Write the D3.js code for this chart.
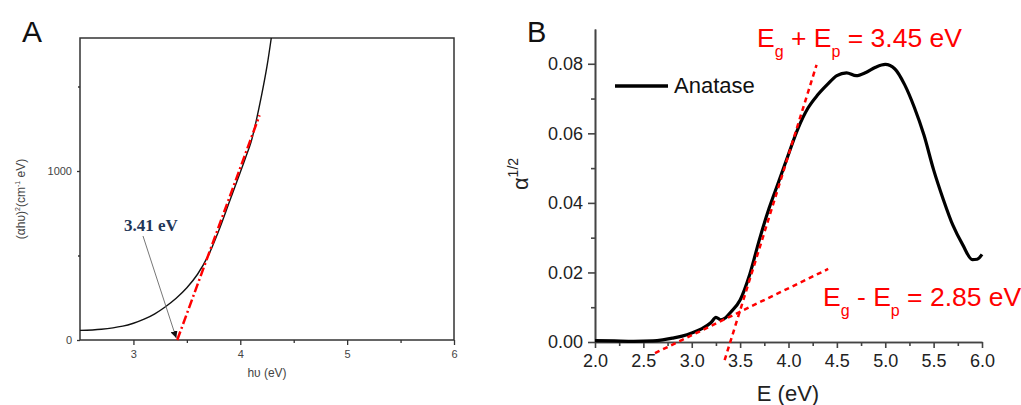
<!DOCTYPE html>
<html>
<head>
<meta charset="utf-8">
<script src="https://cdn.jsdelivr.net/npm/d3@7"></script>
<style>
  body { margin: 0; background: #fff; }
  text { font-family: Arial, "Liberation Sans", sans-serif; }
</style>
</head>
<body>
<svg id="chart" width="1021" height="405"></svg>
<script>
// panel A data: (alpha h nu)^2 vs h nu
var A_E = [2.5, 2.7, 2.9, 3.0, 3.1, 3.2, 3.3, 3.4, 3.5, 3.6, 3.7, 3.8, 3.9, 4.0, 4.05, 4.1, 4.15, 4.2, 4.25, 4.29];
var A_Y = [57, 64, 82, 99, 123, 155, 197, 247, 309, 389, 499, 649, 821, 993, 1080, 1170, 1300, 1450, 1620, 1787];
var A_FIT_E = [3.41, 4.18];
var A_FIT_Y = [0, 1330];
var A_XTICKS = [3, 4, 5, 6];
var A_XMINOR = [3.5, 4.5, 5.5];
var A_YTICKS = [0, 1000];
var A_YMINOR = [500, 1500];

// panel B data: alpha^(1/2) vs E
var B_E = [2.0, 2.2, 2.4, 2.6, 2.7, 2.8, 2.9, 3.0, 3.1, 3.2, 3.25, 3.3, 3.35, 3.4, 3.5, 3.6, 3.7, 3.8, 3.9, 4.0, 4.1, 4.2, 4.3, 4.4, 4.5, 4.6, 4.7, 4.8, 4.9, 5.0, 5.1, 5.2, 5.3, 5.4, 5.5, 5.6, 5.7, 5.8, 5.9, 5.95, 6.0];
var B_Y = [0.0004, 0.0003, 0.0002, 0.0003, 0.0006, 0.0011, 0.0017, 0.0026, 0.0038, 0.0056, 0.0071, 0.0064, 0.0070, 0.0085, 0.0121, 0.0195, 0.0295, 0.0385, 0.0462, 0.0540, 0.0615, 0.0672, 0.0710, 0.0740, 0.0766, 0.0774, 0.0766, 0.0775, 0.0790, 0.0798, 0.0785, 0.0740, 0.0675, 0.0595, 0.0495, 0.0410, 0.0335, 0.0280, 0.0237, 0.0238, 0.0252];
var B_FIT1_E = [3.34, 4.29];
var B_FIT1_Y = [-0.0052, 0.0797];
var B_FIT2_E = [2.62, 4.41];
var B_FIT2_Y = [-0.0032, 0.021];
var B_XTICKS = [2.0, 2.5, 3.0, 3.5, 4.0, 4.5, 5.0, 5.5, 6.0];
var B_XMINOR = [2.25, 2.75, 3.25, 3.75, 4.25, 4.75, 5.25, 5.75];
var B_YTICKS = [0, 0.02, 0.04, 0.06, 0.08];
var B_YMINOR = [0.01, 0.03, 0.05, 0.07];

var svg = d3.select("#chart");

function zip(xs, ys) {
    return xs.map((x, i) => ({x: x, y: ys[i]}));
}

//---------------- panel A ----------------
var xA = d3.scaleLinear().domain([2.5, 6]).range([80, 454]);
var yA = d3.scaleLinear().domain([0, 1787]).range([340, 38]);

var gA = svg.append("g");

gA.append("text").text("A")
    .attr("x", 22).attr("y", 42)
    .attr("font-size", 30).attr("fill", "#111");

gA.append("rect")
    .attr("x", xA(2.5)).attr("y", yA(1787))
    .attr("width", xA(6) - xA(2.5)).attr("height", yA(0) - yA(1787))
    .attr("fill", "none").attr("stroke", "#333").attr("stroke-width", 1.5);

function styleAxisA(g) {
    g.select(".domain").remove();
    g.selectAll("line").attr("stroke", "#333").attr("stroke-width", 1.3);
    g.selectAll("text").attr("font-size", 11).attr("fill", "#444");
}

gA.append("g").attr("transform", `translate(0, ${yA(0)})`)
    .call(d3.axisBottom(xA).tickValues(A_XTICKS).tickSize(5).tickPadding(5).tickFormat(d3.format("d")))
    .call(styleAxisA);
gA.append("g").attr("transform", `translate(0, ${yA(0)})`)
    .call(d3.axisBottom(xA).tickValues(A_XMINOR).tickSize(3).tickFormat(""))
    .call(styleAxisA);
gA.append("g").attr("transform", `translate(${xA(2.5)}, 0)`)
    .call(d3.axisLeft(yA).tickValues(A_YTICKS).tickSize(3).tickPadding(5).tickFormat(d3.format("d")))
    .call(styleAxisA);
gA.append("g").attr("transform", `translate(${xA(2.5)}, 0)`)
    .call(d3.axisLeft(yA).tickValues(A_YMINOR).tickSize(2).tickFormat(""))
    .call(styleAxisA);

gA.append("text")
    .attr("x", 267).attr("y", 377)
    .attr("text-anchor", "middle")
    .attr("font-size", 12).attr("fill", "#444")
    .text("h\u03c5 (eV)");

var ylabA = gA.append("text")
    .attr("transform", "translate(25, 199) rotate(-90)")
    .attr("text-anchor", "middle")
    .attr("font-size", 12).attr("fill", "#444");
ylabA.append("tspan").text("(\u03b1h\u03c5)");
ylabA.append("tspan").text("2").attr("font-size", 7).attr("dy", -5);
ylabA.append("tspan").text("(cm").attr("dy", 5);
ylabA.append("tspan").text("-1").attr("font-size", 7).attr("dy", -5);
ylabA.append("tspan").text(" eV)").attr("dy", 5);

var lineA = d3.line().x(d => xA(d.x)).y(d => yA(d.y)).curve(d3.curveCatmullRom);
gA.append("path")
    .datum(zip(A_E, A_Y))
    .attr("d", lineA)
    .attr("fill", "none").attr("stroke", "#111").attr("stroke-width", 1.4);

gA.append("path")
    .datum(zip(A_FIT_E, A_FIT_Y))
    .attr("d", d3.line().x(d => xA(d.x)).y(d => yA(d.y)))
    .attr("fill", "none").attr("stroke", "#ff0000").attr("stroke-width", 2.5)
    .attr("stroke-dasharray", "9,3,2,3");

// arrow to the intercept
svg.append("defs").append("marker")
    .attr("id", "arr").attr("viewBox", "0 0 10 10")
    .attr("refX", 10).attr("refY", 5)
    .attr("markerWidth", 7).attr("markerHeight", 7)
    .attr("markerUnits", "userSpaceOnUse")
    .attr("orient", "auto")
    .append("path").attr("d", "M0,0 L10,5 L0,10 z").attr("fill", "#111");

gA.append("line")
    .attr("x1", 143).attr("y1", 236)
    .attr("x2", xA(3.41) - 1).attr("y2", yA(0) - 2)
    .attr("stroke", "#777").attr("stroke-width", 1)
    .attr("marker-end", "url(#arr)");

gA.append("text")
    .attr("x", 124).attr("y", 231)
    .style("font-family", "'Liberation Serif', 'Times New Roman', serif")
    .attr("font-weight", "bold").attr("font-size", 17)
    .attr("fill", "#1f3658")
    .text("3.41 eV");

//---------------- panel B ----------------
var xB = d3.scaleLinear().domain([2, 6]).range([595, 982]);
var yB = d3.scaleLinear().domain([0, 0.09]).range([342, 29]);

var gB = svg.append("g");

gB.append("text").text("B")
    .attr("x", 527).attr("y", 42)
    .attr("font-size", 29).attr("fill", "#111");

function styleAxisB(g) {
    g.select(".domain").attr("stroke", "#444").attr("stroke-width", 1.6);
    g.selectAll(".tick line").attr("stroke", "#444").attr("stroke-width", 1.6);
    g.selectAll("text").attr("font-size", 18).attr("fill", "#222");
}

gB.append("g").attr("transform", `translate(0, ${yB(0)})`)
    .call(d3.axisBottom(xB).tickValues(B_XTICKS).tickSize(6).tickSizeOuter(0).tickPadding(6).tickFormat(d3.format(".1f")))
    .call(styleAxisB);
gB.append("g").attr("transform", `translate(0, ${yB(0)})`)
    .call(d3.axisBottom(xB).tickValues(B_XMINOR).tickSize(4).tickSizeOuter(0).tickFormat(""))
    .call(styleAxisB);
gB.append("g").attr("transform", `translate(${xB(2)}, 0)`)
    .call(d3.axisLeft(yB).tickValues(B_YTICKS).tickSize(7).tickSizeOuter(0).tickPadding(5).tickFormat(d3.format(".2f")))
    .call(styleAxisB);
gB.append("g").attr("transform", `translate(${xB(2)}, 0)`)
    .call(d3.axisLeft(yB).tickValues(B_YMINOR).tickSize(4).tickSizeOuter(0).tickFormat(""))
    .call(styleAxisB);

gB.append("text")
    .attr("x", 788).attr("y", 401)
    .attr("text-anchor", "middle")
    .attr("font-size", 22).attr("fill", "#222")
    .text("E (eV)");

var ylabB = gB.append("text")
    .attr("transform", "translate(528, 174) rotate(-90)")
    .attr("text-anchor", "middle")
    .attr("font-size", 22).attr("fill", "#222");
ylabB.append("tspan").text("\u03b1");
ylabB.append("tspan").text("1/2").attr("font-size", 14).attr("dy", -10);

var lineB = d3.line().x(d => xB(d.x)).y(d => yB(d.y)).curve(d3.curveMonotoneX);
gB.append("path")
    .datum(zip(B_E, B_Y))
    .attr("d", lineB)
    .attr("fill", "none").attr("stroke", "#000").attr("stroke-width", 3.2)
    .attr("stroke-linejoin", "round");

var fitLine = d3.line().x(d => xB(d.x)).y(d => yB(d.y));
[zip(B_FIT1_E, B_FIT1_Y), zip(B_FIT2_E, B_FIT2_Y)].forEach(function(pts) {
    gB.append("path")
        .datum(pts)
        .attr("d", fitLine)
        .attr("fill", "none").attr("stroke", "#ff0000").attr("stroke-width", 2.5)
        .attr("stroke-dasharray", "5,4");
});

// legend
gB.append("line")
    .attr("x1", 615).attr("x2", 668).attr("y1", 86).attr("y2", 86)
    .attr("stroke", "#000").attr("stroke-width", 3.5);
gB.append("text")
    .attr("x", 674).attr("y", 93)
    .attr("font-size", 22).attr("fill", "#111")
    .text("Anatase");

// red annotations
function subLabel(x, y, op, value) {
    var t = gB.append("text")
        .attr("x", x).attr("y", y)
        .attr("font-size", 26.5).attr("fill", "#ff0000");
    t.append("tspan").text("E");
    t.append("tspan").text("g").attr("font-size", 16).attr("dy", 10);
    t.append("tspan").text(" " + op + " E").attr("dy", -10);
    t.append("tspan").text("p").attr("font-size", 16).attr("dy", 10);
    t.append("tspan").text(" = " + value + " eV").attr("dy", -10);
}
subLabel(757, 47, "+", "3.45");
subLabel(823, 306, "-", "2.85");
</script>
</body>
</html>
